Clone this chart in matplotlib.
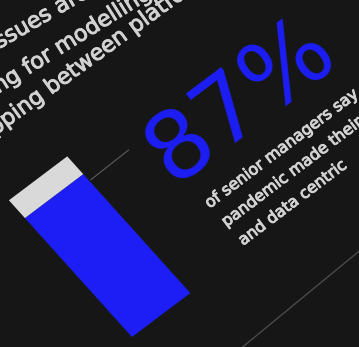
import numpy as np
import matplotlib
matplotlib.use("Agg")
import matplotlib.pyplot as plt
import matplotlib.patheffects as pe
from matplotlib.transforms import Affine2D
from matplotlib.textpath import TextToPath
from matplotlib.font_manager import FontProperties

# data
share_value = 87
share_label = "87%"
caption_lines = ["of senior managers say", "pandemic made their", "and data centric"]
intro_lines = ["Data quality issues are a", "challenging for modelling and", "mapping between platforms"]
intro_marks = ["ssues", "for", "between"]   # word that sits at the left reference point

W, H = 359, 347
BG = "#161616"
BLUE = "#1c1ef5"
GREY = "#d9d9d9"
TEXT = "#d2d2d2"

# the page is photographed at an angle: local frame (s along text, t up)
U = np.array([0.799, 0.602])
V = np.array([-0.669, 0.743])
ORIGIN = np.array([132.0, 10.0])
ANGLE = np.degrees(np.arctan2(U[1], U[0]))
BAR_LEN = 184.0   # pixels for 100 %
BAR_W = 73.0


def place(s, t):
    return ORIGIN + s * U + t * V


t2p = TextToPath()


def text_width_px(txt, size):
    # advance of txt, measured against the next glyph so trailing spaces count
    fp = FontProperties(family="DejaVu Sans", size=size)
    w1 = t2p.get_text_width_height_descent(txt + "x", fp, ismath=False)[0]
    w2 = t2p.get_text_width_height_descent("x", fp, ismath=False)[0]
    return (w1 - w2) * 100 / 72


fig = plt.figure(figsize=(W / 100, H / 100), dpi=100, facecolor=BG)
ax = fig.add_axes([0, 0, 1, 1])
ax.set_facecolor(BG)

local = Affine2D(np.array([[U[0], V[0], ORIGIN[0]],
                           [U[1], V[1], ORIGIN[1]],
                           [0, 0, 1]]))

# bar: filled share in blue, remainder in grey
bar_tr = Affine2D().scale(1, BAR_LEN / 100) + local + ax.transData
ax.bar([0], [share_value], width=BAR_W, align="edge", color=BLUE,
       linewidth=0, transform=bar_tr)
ax.bar([0], [100 - share_value], bottom=[share_value], width=BAR_W,
       align="edge", color=GREY, linewidth=0, transform=bar_tr)

# thin rules
line_tr = local + ax.transData
ax.plot([75, 123], [151, 152], color="#5c5c5c", lw=0.8, transform=line_tr)
ax.plot([60, 270], [-75.5, -66.5], color="#4a4a4a", lw=1.0, transform=line_tr)

thick = [pe.withStroke(linewidth=0.7, foreground=TEXT)]

# big number
x, y = place(133, 97)
ax.text(x, y, share_label, fontsize=68, color=BLUE, rotation=ANGLE,
        rotation_mode="anchor", ha="left", va="baseline")

# caption under the number
for i, line in enumerate(caption_lines):
    x, y = place(144, 56 - 25 * i)
    ax.text(x, y, line, fontsize=11.5, color=TEXT, rotation=ANGLE,
            rotation_mode="anchor", ha="left", va="baseline", path_effects=thick)

# paragraph running off the top-left corner (perspective flattens it a bit)
intro_ref = [(-1, 298), (28, 272), (51, 252)]
intro_angle = [30, 32, 36]
for line, mark, (rx, ry), a in zip(intro_lines, intro_marks, intro_ref, intro_angle):
    prefix = line[:line.index(mark)]
    shift = text_width_px(prefix, 16) if prefix else 0
    x = rx - shift * np.cos(np.radians(a))
    y = ry - shift * np.sin(np.radians(a))
    ax.text(x, y, line, fontsize=16, color=TEXT, rotation=a,
            rotation_mode="anchor", ha="left", va="baseline", path_effects=thick)

ax.set_xlim(0, W)
ax.set_ylim(0, H)
ax.axis("off")

fig.savefig("out.png", dpi=100, facecolor=BG)
